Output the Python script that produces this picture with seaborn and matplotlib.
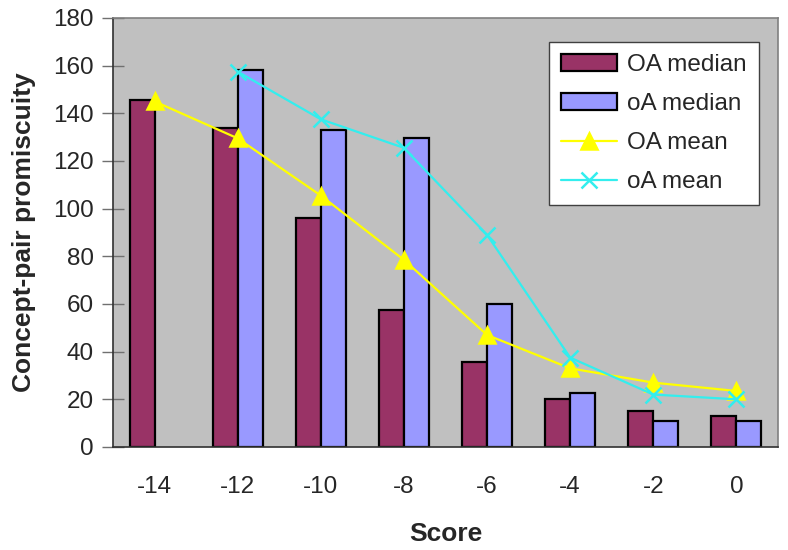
import numpy as np
import pandas as pd
import seaborn as sns
import matplotlib.pyplot as plt
from matplotlib.ticker import MultipleLocator

# Data
scores = ["-14", "-12", "-10", "-8", "-6", "-4", "-2", "0"]
oa_median_upper = [145.5, 134, 96, 57.5, 35.5, 20, 15, 13]      # "OA median"
oa_median_lower = [np.nan, 158, 133, 129.5, 60, 22.5, 11, 11]   # "oA median"
oa_mean_upper = [145, 129.5, 105.5, 78.5, 47, 33, 27, 23.5]     # "OA mean"
oa_mean_lower = [np.nan, 157.5, 137.5, 125.5, 89, 37.5, 22, 20]  # "oA mean"

median_names = ["OA median", "oA median"]
mean_names = ["OA mean", "oA mean"]

medians = pd.DataFrame({
    "Score": scores * 2,
    "value": oa_median_upper + oa_median_lower,
    "series": [median_names[0]] * len(scores) + [median_names[1]] * len(scores),
})
means = pd.DataFrame({
    "Score": scores * 2,
    "value": oa_mean_upper + oa_mean_lower,
    "series": [mean_names[0]] * len(scores) + [mean_names[1]] * len(scores),
})

sns.set_style("white")
plt.rcParams["font.family"] = ["Liberation Sans", "DejaVu Sans"]

fig = plt.figure(figsize=(7.88, 5.5), dpi=100)
ax = fig.add_axes([0.1434, 0.1873, 0.8439, 0.78])
ax.set_facecolor("#C0C0C0")

sns.barplot(data=medians, x="Score", y="value", hue="series", order=scores,
            hue_order=median_names, palette=["#993366", "#9999FF"],
            width=0.6, edgecolor="black", linewidth=1.6, saturation=1,
            errorbar=None, ax=ax)

sns.pointplot(data=means, x="Score", y="value", hue="series", order=scores,
              hue_order=mean_names, palette=["#FFFF00", "#33EEEE"],
              markers=["^", "x"], linestyles=["-", "-"], dodge=False,
              errorbar=None, markersize=11, linewidth=1.6,
              markeredgewidth=1.8, ax=ax)

ax.set_xlim(-0.5, len(scores) - 0.5)
ax.set_ylim(0, 180)
ax.yaxis.set_major_locator(MultipleLocator(20))

# category ticks sit between the groups, labels at the centres
ax.set_xticks(np.arange(-0.5, len(scores), 1.0), minor=True)
ax.tick_params(axis="x", which="major", length=0, labelsize=17.5, pad=21)
ax.tick_params(axis="x", which="minor", direction="inout", length=16,
               width=1, color="#707070")
ax.tick_params(axis="y", direction="inout", length=16, width=1,
               color="#707070", labelsize=17.5, pad=6, left=True)

for side in ["left", "bottom"]:
    ax.spines[side].set_color("#303030")
    ax.spines[side].set_linewidth(1.2)
for side in ["top", "right"]:
    ax.spines[side].set_color("#808080")
    ax.spines[side].set_linewidth(1.2)

ax.set_xlabel("Score", fontsize=19, fontweight="bold", labelpad=17)
ax.set_ylabel("Concept-pair promiscuity", fontsize=19, fontweight="bold",
              labelpad=12)

handles, labels = ax.get_legend_handles_labels()
ax.legend(handles, labels, loc="upper left", bbox_to_anchor=(0.6556, 0.944),
          borderaxespad=0, fontsize=17.5, frameon=True, fancybox=False,
          edgecolor="#404040", facecolor="white", framealpha=1,
          handlelength=2.3, handletextpad=0.4, labelspacing=0.7,
          borderpad=0.5)

fig.savefig("out.png", dpi=100)
